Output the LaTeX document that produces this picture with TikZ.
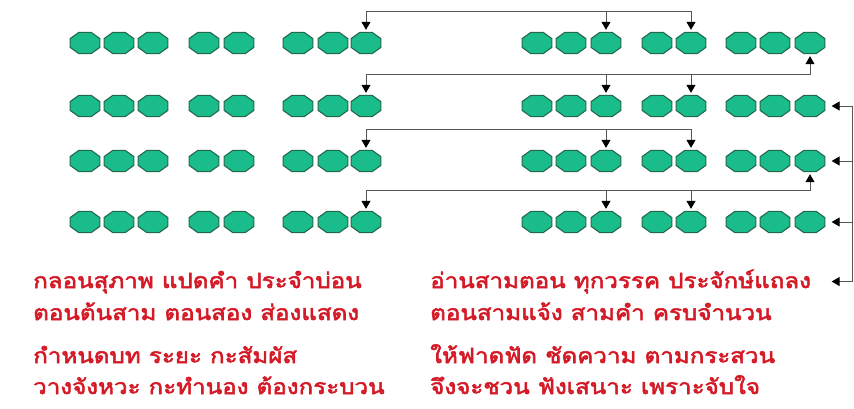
\documentclass[tikz,border=0pt]{standalone}
\usepackage{fontspec}
\newfontfamily\thaifont[Script=Thai,FakeBold=2.4]{Loma}
\usepackage{tikz}
\usetikzlibrary{arrows.meta,shapes.geometric}
\definecolor{dotfill}{RGB}{26,188,140}
\definecolor{dotedge}{RGB}{36,104,76}
\definecolor{verse}{RGB}{212,26,38}
\definecolor{wire}{RGB}{85,85,85}

\begin{document}
\begin{tikzpicture}[x=1pt,y=-1pt,
    dot/.style={regular polygon,regular polygon sides=8,minimum size=23pt,inner sep=0pt,
      xscale=1.4,fill=dotfill,draw=dotedge,line width=1.1pt},
    link/.style={draw=wire,line width=1pt,-{Triangle[length=8pt,width=9pt,color=black]},shorten >=2pt},
    wireline/.style={draw=wire,line width=1pt},
    verseline/.style={anchor=base west,inner sep=0pt,xscale=1.15,text=verse,font=\thaifont\fontsize{21}{25}\selectfont}]
        \useasboundingbox (0,0) rectangle (854,408);
        % four rows of dots, left and right halves
        \foreach \r/\y in {1/43,2/106,3/161,4/222}{
          \foreach \i/\x in {1/85,2/119,3/153,4/204,5/239,6/298,7/333,8/366}{\node[dot] (L\r-\i) at (\x,\y) {};}
          \foreach \i/\x in {1/537,2/571,3/606,4/657,5/691,6/741,7/775,8/810}{\node[dot] (R\r-\i) at (\x,\y) {};}}
        % verses
        \node[verseline] (tL1) at (33,288) {กลอนสุภาพ แปดคำ ประจำบ่อน};
        \node[verseline] (tL2) at (33,320) {ตอนต้นสาม ตอนสอง ส่องแสดง};
        \node[verseline] (tL3) at (33,363) {กำหนดบท ระยะ กะสัมผัส};
        \node[verseline] (tL4) at (33,394) {วางจังหวะ กะทำนอง ต้องกระบวน};
        \node[verseline] (tR1) at (430,288) {อ่านสามตอน ทุกวรรค ประจักษ์แถลง};
        \node[verseline] (tR2) at (430,320) {ตอนสามแจ้ง สามคำ ครบจำนวน};
        \node[verseline] (tR3) at (430,363) {ให้ฟาดฟัด ชัดความ ตามกระสวน};
        \node[verseline] (tR4) at (430,394) {จึงจะชวน ฟังเสนาะ เพราะจับใจ};
        % rhyme links between rows
        \foreach \r in {1,3}{
          \draw[link] (L\r-8.north) ++(0,-20) coordinate (h\r) -| (R\r-5.north);
          \draw[link] (h\r) -- (L\r-8.north);
          \draw[link] (h\r -| R\r-3) -- (R\r-3.north);}
        \foreach \r/\p in {2/1,4/3}{
          \draw[link] (L\r-8.north) ++(0,-20) coordinate (h\r) -| (R\p-8.south);
          \draw[link] (h\r) -- (L\r-8.north);
          \draw[link] (h\r -| R\r-3) -- (R\r-3.north);
          \draw[link] (h\r -| R\r-5) -- (R\r-5.north);}
        % rail on the right
        \coordinate (rail) at (852,0);
        \draw[wireline] (rail |- R2-8) -- (rail |- tR1);
        \foreach \r in {2,3,4}{\draw[link,shorten >=6pt] (rail |- R\r-8) -- (R\r-8.east);}
        \draw[link,shorten >=6pt] (rail |- tR1) -- (R4-8.east |- tR1);
      \end{tikzpicture}
\end{document}
